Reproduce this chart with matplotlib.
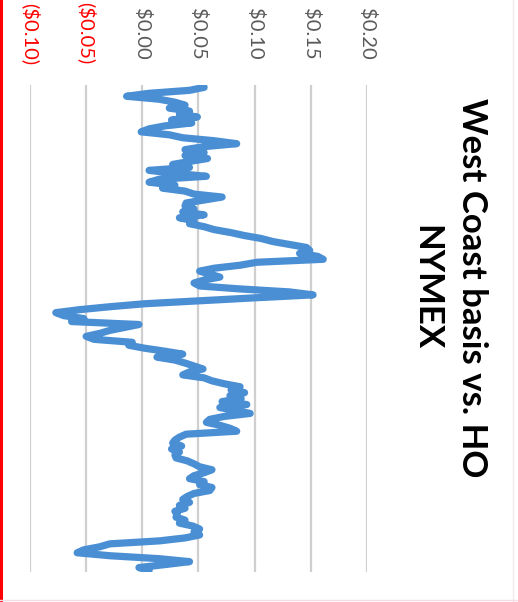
import matplotlib
matplotlib.use('Agg')
import matplotlib.pyplot as plt
from matplotlib.lines import Line2D

# West Coast basis vs. HO NYMEX, $/gal, one value per trading day (oldest first)
basis = [0.055, 0.042, 0.006, -0.014, 0.015, 0.029, 0.038, 0.024, 0.042, 0.033,
         0.049, 0.026, 0.044, 0.020, 0.006, -0.001, 0.024, 0.036, 0.064, 0.084,
         0.055, 0.038, 0.055, 0.038, 0.058, 0.042, 0.027, 0.042, 0.006, 0.029,
         0.057, 0.015, 0.006, 0.029, 0.018, 0.038, 0.046, 0.071, 0.055, 0.039,
         0.038, 0.046, 0.036, 0.055, 0.033, 0.046, 0.042, 0.055, 0.064, 0.079,
         0.091, 0.106, 0.116, 0.131, 0.146, 0.149, 0.140, 0.156, 0.161, 0.102,
         0.087, 0.064, 0.051, 0.060, 0.069, 0.055, 0.046, 0.051, 0.087, 0.131,
         0.152, 0.100, 0.051, 0.002, -0.029, -0.056, -0.077, -0.070, -0.052, -0.063,
         -0.003, -0.016, -0.029, -0.038, -0.050, -0.043, -0.009, -0.012, 0.002, 0.020,
         0.036, 0.013, 0.029, 0.038, 0.046, 0.054, 0.042, 0.036, 0.055, 0.062,
         0.073, 0.087, 0.079, 0.091, 0.078, 0.088, 0.071, 0.093, 0.069, 0.082,
         0.096, 0.073, 0.060, 0.057, 0.069, 0.078, 0.084, 0.039, 0.033, 0.029,
         0.027, 0.035, 0.026, 0.033, 0.029, 0.030, 0.040, 0.046, 0.051, 0.062,
         0.055, 0.046, 0.042, 0.055, 0.051, 0.062, 0.060, 0.046, 0.040, 0.036,
         0.042, 0.033, 0.038, 0.029, 0.031, 0.030, 0.038, 0.033, 0.045, 0.051,
         0.046, 0.051, 0.038, 0.015, -0.029, -0.038, -0.052, -0.058, -0.029, 0.015,
         0.042, 0.020, -0.003, 0.006]
days = list(range(len(basis)))

ticks = [-0.10, -0.05, 0.00, 0.05, 0.10, 0.15, 0.20]
tick_labels = ['($0.10)', '($0.05)', '$0.00', '$0.05', '$0.10', '$0.15', '$0.20']

fig = plt.figure(figsize=(5.18, 6.02), dpi=100)
ax = fig.add_axes([0.0579, 0.0498, 0.6506, 0.809])

# chart is drawn turned a quarter turn: values across, time downwards
ax.plot(basis, days, color='#4a8fd4', lw=5.2, solid_joinstyle='round', solid_capstyle='round')

ax.set_xlim(-0.10, 0.20)
ax.set_ylim(len(basis) - 0.5, -0.8)
ax.xaxis.tick_top()
ax.set_xticks(ticks)
ax.set_xticklabels(tick_labels, rotation=-90, va='center', ha='center',
                   fontsize=14.5, family='Lato')
for lab, t in zip(ax.get_xticklabels(), ticks):
    lab.set_color('#ff0000' if t < 0 else '#595959')
ax.tick_params(axis='x', length=0, pad=37)
ax.set_yticks([])
ax.grid(axis='x', color='#cfcfcf', lw=1.6)
ax.set_axisbelow(True)
for s in ax.spines.values():
    s.set_visible(False)

fig.text(449 / 518, 1 - 288 / 602, 'West Coast basis vs. HO\nNYMEX', rotation=-90,
         ha='center', va='center', fontsize=25, fontweight='bold', family='Lato',
         color='#000000', linespacing=1.5)

# frame edges of the original screenshot
fig.add_artist(Line2D([0.002, 0.002], [0, 1], color='#ff0000', lw=2.2, transform=fig.transFigure))
fig.add_artist(Line2D([0.991, 0.991], [0, 1], color='#f0e8ec', lw=1, transform=fig.transFigure))
fig.add_artist(Line2D([0, 1], [0.003, 0.003], color='#f4dde4', lw=1, transform=fig.transFigure))

fig.savefig('out.png', dpi=100)
